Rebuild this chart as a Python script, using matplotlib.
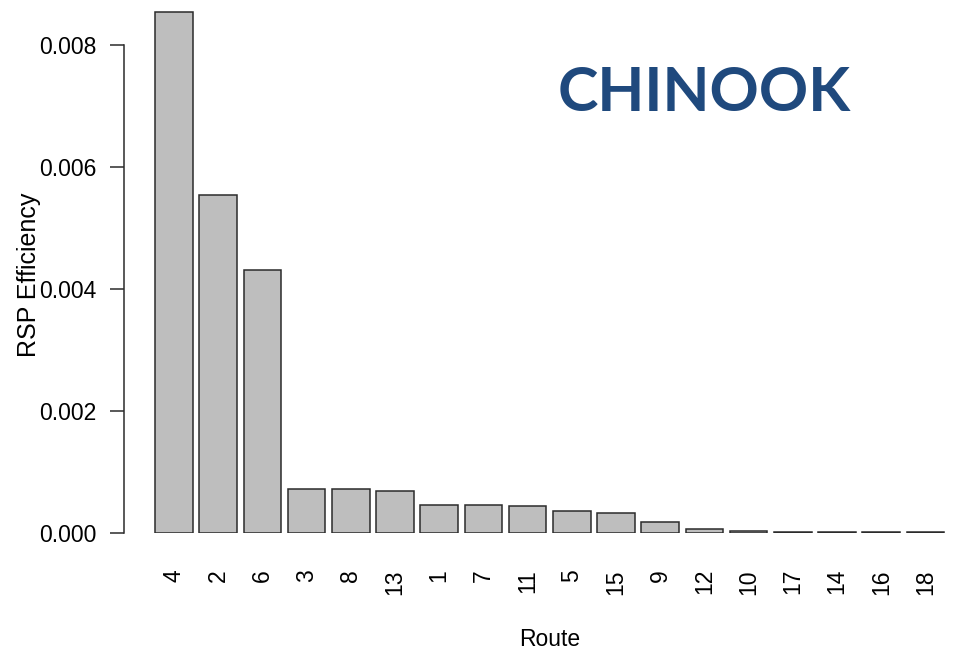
import matplotlib.pyplot as plt
import numpy as np

plt.rcParams['font.family'] = ['Liberation Sans', 'DejaVu Sans']

# RSP efficiency per route, sorted high to low
routes = ['4', '2', '6', '3', '8', '13', '1', '7', '11', '5', '15', '9',
          '12', '10', '17', '14', '16', '18']
efficiency = [0.00854, 0.00554, 0.00431, 0.00072, 0.00072, 0.00069,
              0.00046, 0.00046, 0.00044, 0.00036, 0.00033, 0.00018,
              0.00006, 0.00004, 0.00001, 0.00001, 0.00001, 0.00001]
yticks = [0.000, 0.002, 0.004, 0.006, 0.008]

W, H = 956, 655
fig = plt.figure(figsize=(W / 100, H / 100), dpi=100)
ax = fig.add_axes([124 / W, 1 - 533 / H, 1 - 124 / W, (533 - 5) / H])

x = np.arange(len(routes))
ax.bar(x, efficiency, width=0.85, color='#bebebe', edgecolor='#2b2b2b',
       linewidth=1.1)

ax.set_xlim(-1.13, 17.69)
ax.set_ylim(0, (533 - 5) / 61000)

for s in ['top', 'right', 'bottom']:
    ax.spines[s].set_visible(False)
ax.spines['left'].set_bounds(0, 0.008)
ax.spines['left'].set_color('#2b2b2b')
ax.spines['left'].set_linewidth(1.1)

ax.set_yticks(yticks)
ax.set_yticklabels(['%.3f' % v for v in yticks], fontsize=16.5)
ax.tick_params(axis='y', length=10, width=1.1, color='#2b2b2b', pad=10)

ax.set_xticks(x)
ax.set_xticklabels(routes, rotation=90, fontsize=16.5)
ax.tick_params(axis='x', length=0, pad=26)

# axis titles placed in figure pixels
fig.text(550 / W, 1 - 639 / H, 'Route', fontsize=16.5,
         ha='center', va='center')
fig.text(29 / W, 1 - 275 / H, 'RSP Efficiency', rotation=90, fontsize=18,
         ha='center', va='center')

fig.text(704 / W, 1 - 93 / H, 'CHINOOK', fontsize=44, fontweight='bold',
         color='#1f497d', family=['Lato', 'DejaVu Sans'],
         ha='center', va='center')

fig.savefig('out.png', dpi=100)
